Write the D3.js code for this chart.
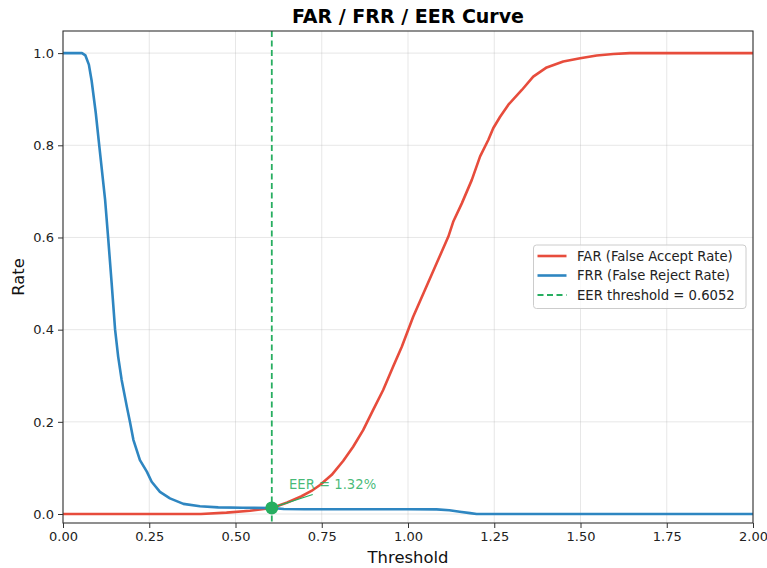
<!DOCTYPE html>
<html><head><meta charset="utf-8">
<script src="https://cdn.jsdelivr.net/npm/d3@7"></script>
<style>body{margin:0;background:#fff;} svg{display:block;font-family:"DejaVu Sans",sans-serif;}</style>
</head><body>
<svg id="c" width="767" height="568"></svg>
<script>
const frrT = [0, 0.055, 0.065, 0.075, 0.083, 0.095, 0.105, 0.122, 0.131, 0.141, 0.151, 0.160, 0.170, 0.185, 0.194, 0.204, 0.223, 0.243, 0.257, 0.281, 0.310, 0.349, 0.397, 0.45, 0.52, 0.6052, 0.64, 0.70, 1.00, 1.083, 1.12, 1.15, 1.18, 1.199, 2.0];
const frrV = [1.0, 1.0, 0.995, 0.975, 0.94, 0.87, 0.80, 0.682, 0.598, 0.501, 0.40, 0.341, 0.291, 0.233, 0.200, 0.161, 0.117, 0.092, 0.070, 0.048, 0.034, 0.022, 0.017, 0.0145, 0.0135, 0.0132, 0.011, 0.0102, 0.0102, 0.0100, 0.008, 0.005, 0.002, 0.0, 0.0];
const farT = [0, 0.40, 0.474, 0.542, 0.571, 0.6052, 0.65, 0.69, 0.72, 0.745, 0.779, 0.812, 0.841, 0.870, 0.899, 0.928, 0.957, 0.982, 1.015, 1.049, 1.083, 1.117, 1.131, 1.156, 1.185, 1.209, 1.233, 1.247, 1.267, 1.291, 1.330, 1.363, 1.402, 1.450, 1.499, 1.547, 1.595, 1.643, 2.0];
const farV = [0, 0, 0.003, 0.007, 0.010, 0.0132, 0.025, 0.038, 0.050, 0.063, 0.085, 0.115, 0.146, 0.182, 0.226, 0.269, 0.320, 0.363, 0.428, 0.486, 0.544, 0.602, 0.634, 0.674, 0.725, 0.776, 0.812, 0.837, 0.862, 0.888, 0.920, 0.949, 0.969, 0.982, 0.989, 0.995, 0.998, 1.0, 1.0];
const eerThreshold = 0.6052;
const eerValue = 0.0132;
const xTicks = [0, 0.25, 0.5, 0.75, 1.0, 1.25, 1.5, 1.75, 2.0];
const yTicks = [0, 0.2, 0.4, 0.6, 0.8, 1.0];
const legendLabels = ["FAR (False Accept Rate)", "FRR (False Reject Rate)", "EER threshold = 0.6052"];

const svg = d3.select("#c");
const L = 63, R = 753, T = 31, B = 523;
const x = d3.scaleLinear().domain([0, 2]).range([L, R]);
const y = d3.scaleLinear().domain([-0.0195, 1.048]).range([B, T]);
const cRed = "#e74c3c", cBlue = "#2e86c1", cGreen = "#27ae60";

// grid
const g = svg.append("g");
g.selectAll(".gx").data(xTicks).enter().append("line")
  .attr("x1", d => x(d)).attr("x2", d => x(d)).attr("y1", T).attr("y2", B)
  .attr("stroke", "#b0b0b0").attr("stroke-opacity", 0.3).attr("stroke-width", 1);
g.selectAll(".gy").data(yTicks).enter().append("line")
  .attr("y1", d => y(d)).attr("y2", d => y(d)).attr("x1", L).attr("x2", R)
  .attr("stroke", "#b0b0b0").attr("stroke-opacity", 0.3).attr("stroke-width", 1);

svg.append("clipPath").attr("id", "clp").append("rect")
  .attr("x", L).attr("y", T).attr("width", R - L).attr("height", B - T);

const line = d3.line().x(d => x(d[0])).y(d => y(d[1]));
const plot = svg.append("g").attr("clip-path", "url(#clp)");
plot.append("path").datum(farT.map((t, i) => [t, farV[i]])).attr("d", line)
  .attr("fill", "none").attr("stroke", cRed).attr("stroke-width", 2.6).attr("stroke-linejoin", "round");
plot.append("path").datum(frrT.map((t, i) => [t, frrV[i]])).attr("d", line)
  .attr("fill", "none").attr("stroke", cBlue).attr("stroke-width", 2.6).attr("stroke-linejoin", "round");
plot.append("line").attr("x1", x(eerThreshold)).attr("x2", x(eerThreshold)).attr("y1", T).attr("y2", B)
  .attr("stroke", cGreen).attr("stroke-width", 1.8).attr("stroke-dasharray", "6,3.5");

// annotation
const txX = x(eerThreshold + 0.05), txY = y(eerValue + 0.04);
const ann = svg.append("text").attr("x", txX).attr("y", txY).attr("fill", cGreen).attr("fill-opacity", 0.85)
  .attr("font-size", 13.2).text("EER = " + (eerValue * 100).toFixed(2) + "%");
const bb = ann.node().getBBox();
const cx0 = bb.x + bb.width / 2, cy0 = bb.y + bb.height / 2;
const px = x(eerThreshold), py = y(eerValue);
const dy = (bb.y + bb.height) - cy0;
const sx = cx0 + (px - cx0) * dy / (py - cy0), sy = bb.y + bb.height + 2;
svg.append("line").attr("x1", sx).attr("y1", sy).attr("x2", px + 3).attr("y2", py - 1)
  .attr("stroke", cGreen).attr("stroke-width", 1.2);
plot.append("circle").attr("cx", px).attr("cy", py).attr("r", 6.5).attr("fill", cGreen);

// axes
const xAxis = d3.axisBottom(x).tickValues(xTicks).tickFormat(d3.format(".2f")).tickSize(5).tickPadding(4);
const yAxis = d3.axisLeft(y).tickValues(yTicks).tickFormat(d3.format(".1f")).tickSize(5).tickPadding(4);
const gx = svg.append("g").attr("transform", `translate(0,${B})`).call(xAxis);
const gy = svg.append("g").attr("transform", `translate(${L},0)`).call(yAxis);
[gx, gy].forEach(a => {
  a.select(".domain").remove();
  a.selectAll("text").attr("font-size", 13).attr("fill", "#222").attr("font-family", "DejaVu Sans");
  a.selectAll("line").attr("stroke", "#333").attr("stroke-width", 1);
});
svg.append("rect").attr("x", L).attr("y", T).attr("width", R - L).attr("height", B - T)
  .attr("fill", "none").attr("stroke", "#333").attr("stroke-width", 1.1);

// labels
svg.append("text").attr("x", (L + R) / 2).attr("y", 563).attr("text-anchor", "middle")
  .attr("font-size", 16.4).attr("fill", "#111").text("Threshold");
svg.append("text").attr("transform", `translate(24,${(T + B) / 2}) rotate(-90)`).attr("text-anchor", "middle")
  .attr("font-size", 16.4).attr("fill", "#111").text("Rate");
svg.append("text").attr("x", (L + R) / 2).attr("y", 23).attr("text-anchor", "middle")
  .attr("font-size", 19).attr("font-weight", "bold").attr("fill", "#000").text("FAR / FRR / EER Curve");

// legend
const lg = svg.append("g");
lg.append("rect").attr("x", 533.5).attr("y", 245).attr("width", 212.5).attr("height", 63.5).attr("rx", 3)
  .attr("fill", "#fff").attr("fill-opacity", 0.8).attr("stroke", "#ccc").attr("stroke-width", 1);
const cols = [cRed, cBlue, cGreen];
legendLabels.forEach((lab, i) => {
  const yy = 256 + i * 19.5;
  lg.append("line").attr("x1", 537.5).attr("x2", 566.5).attr("y1", yy).attr("y2", yy)
    .attr("stroke", cols[i]).attr("stroke-width", i === 2 ? 1.8 : 2.6)
    .attr("stroke-dasharray", i === 2 ? "6,3.5" : null);
  lg.append("text").attr("x", 577).attr("y", yy).attr("dy", "0.35em").attr("font-size", 13.2)
    .attr("fill", "#222").text(lab);
});
</script>
</body></html>
